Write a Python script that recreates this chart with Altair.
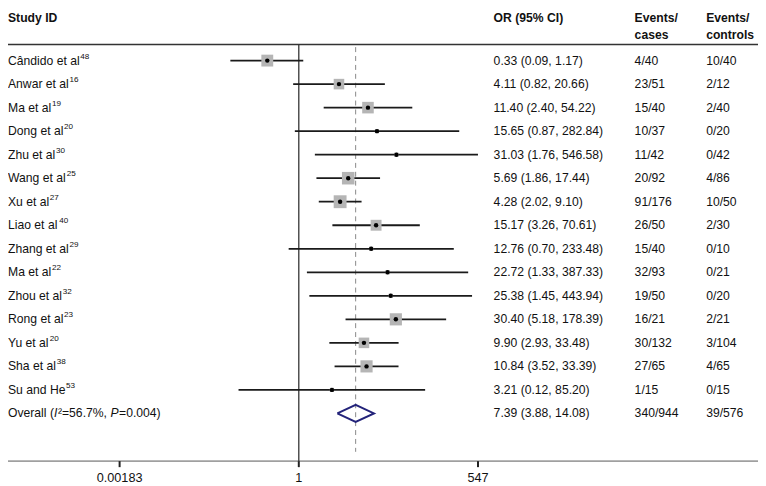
import altair as alt
import pandas as pd

# ---------------- data ----------------
study_names = ["Cândido et al", "Anwar et al", "Ma et al", "Dong et al", "Zhu et al",
               "Wang et al", "Xu et al", "Liao et al", "Zhang et al", "Ma et al",
               "Zhou et al", "Rong et al", "Yu et al", "Sha et al", "Su and He"]
study_refs = ["48", "16", "19", "20", "30", "25", "27", "40", "29", "22", "32", "23", "20", "38", "53"]
odds = [0.33, 4.11, 11.40, 15.65, 31.03, 5.69, 4.28, 15.17, 12.76, 22.72, 25.38, 30.40, 9.90, 10.84, 3.21]
lower = [0.09, 0.82, 2.40, 0.87, 1.76, 1.86, 2.02, 3.26, 0.70, 1.33, 1.45, 5.18, 2.93, 3.52, 0.12]
upper = [1.17, 20.66, 54.22, 282.84, 546.58, 17.44, 9.10, 70.61, 233.48, 387.33, 443.94, 178.39, 33.48, 33.39, 85.20]
cases = ["4/40", "23/51", "15/40", "10/37", "11/42", "20/92", "91/176", "26/50", "15/40",
         "32/93", "19/50", "16/21", "30/132", "27/65", "1/15"]
controls = ["10/40", "2/12", "2/40", "0/20", "0/42", "4/86", "10/50", "2/30", "0/10",
            "0/21", "0/20", "2/21", "3/104", "4/65", "0/15"]
# box weights (relative)
weights = [12.0, 9.5, 11.4, 1.5, 1.5, 13.4, 14.1, 10.1, 1.5, 1.5, 1.5, 12.6, 9.5, 12.6, 1.5]

overall_or = 7.39
overall_lo = 3.88
overall_hi = 14.08
overall_cases = "340/944"
overall_controls = "39/576"
overall_parts = [("Overall (", False), ("I", True), ("²=56.7%, ", False), ("P", True), ("=0.004)", False)]

tick_vals = [1 / 547, 1, 547]
tick_labels = ["0.00183", "1", "547"]

FONT = "Liberation Sans"
FS = 12.3
SUP_FS = 8.2

# Arial / Liberation Sans advance widths (1/1000 em) for text layout
AW = {" ": 278, "C": 722, "â": 556, "n": 556, "d": 556, "i": 222, "o": 556, "e": 556, "t": 278,
      "a": 556, "l": 222, "A": 667, "w": 722, "r": 333, "M": 833, "D": 722, "g": 556, "Z": 611,
      "h": 556, "u": 556, "W": 944, "X": 667, "L": 667, "R": 722, "Y": 667, "y": 500, "S": 667,
      "H": 722, "O": 778, "v": 500, "(": 333, ")": 333, "I": 278, "P": 667, "²": 333, "=": 584,
      ".": 278, "%": 889, ",": 278, "0": 556, "1": 556, "2": 556, "3": 556, "4": 556, "5": 556,
      "6": 556, "7": 556, "8": 556, "9": 556}


def tw(s, fs):
    return sum(AW.get(c, 556) for c in s) / 1000.0 * fs


rows = pd.DataFrame({
    "row": list(range(len(study_names))),
    "study": study_names,
    "ref": study_refs,
    "or": odds,
    "lo": lower,
    "hi": upper,
    "w": weights,
    "cases": cases,
    "controls": controls,
})
rows["ci"] = [f"{o:.2f} ({l:.2f}, {h:.2f})" for o, l, h in zip(odds, lower, upper)]
rows["sx"] = [tw(s, FS) + 0.6 for s in study_names]

orow = len(study_names)
overall = pd.DataFrame({
    "row": [orow],
    "ci": [f"{overall_or:.2f} ({overall_lo:.2f}, {overall_hi:.2f})"],
    "cases": [overall_cases],
    "controls": [overall_controls],
    "or": [overall_or],
})
diamond = pd.DataFrame({
    "x": [overall_lo, overall_or, overall_hi, overall_or, overall_lo],
    "row": [orow, orow - 0.36, orow, orow + 0.36, orow],
    "k": [0, 1, 2, 3, 4],
})
ticks = pd.DataFrame({"v": tick_vals, "lab": tick_labels})
one = pd.DataFrame({"v": [1]})

xs = alt.Scale(type="log", domain=[tick_vals[0], tick_vals[-1]], range=[112.8, 475.0])
ys = alt.Scale(domain=[0, orow], range=[50.6, 407.2], zero=False, nice=False)
X = lambda f: alt.X(f, scale=xs, axis=None)
Y = alt.Y("row:Q", scale=ys, axis=None)


def const_text(t, x, y, **kw):
    return alt.Chart(one).mark_text(text=t, font=FONT, fontSize=FS, align="left",
                                    baseline="middle", color="#111", **kw).encode(
        x=alt.value(x), y=alt.value(y))


W = 758
layers = []

# headers
layers += [
    const_text("Study ID", 0, 7.4, fontWeight="bold"),
    const_text("OR (95% CI)", 490.8, 7.4, fontWeight="bold"),
    const_text("Events/", 633.3, 7.4, fontWeight="bold"),
    const_text("cases", 633.3, 24.6, fontWeight="bold"),
    const_text("Events/", 705.6, 7.4, fontWeight="bold"),
    const_text("controls", 705.6, 24.6, fontWeight="bold"),
]

# horizontal rules
layers.append(alt.Chart(one).mark_rule(color="#333", strokeWidth=1.5).encode(
    x=alt.value(0), x2=alt.value(W), y=alt.value(34.4)))
layers.append(alt.Chart(one).mark_rule(color="#a0a0a0", strokeWidth=2).encode(
    x=alt.value(0), x2=alt.value(W), y=alt.value(455.4)))

# vertical line at 1
layers.append(alt.Chart(one).mark_rule(color="#333", strokeWidth=1.3).encode(
    x=X("v:Q"), y=alt.value(34.4), y2=alt.value(455.4)))
# dashed overall line
layers.append(alt.Chart(overall).mark_rule(color="#888", strokeWidth=1, strokeDash=[5, 4]).encode(
    x=X("or:Q"), y=alt.value(37), y2=alt.value(446)))

# CI lines
layers.append(alt.Chart(rows).mark_rule(color="#1a1a1a", strokeWidth=1.8).encode(
    x=X("lo:Q"), x2="hi:Q", y=Y))
# boxes
layers.append(alt.Chart(rows).mark_square(color="#b5b5b5", opacity=1).encode(
    x=X("or:Q"), y=Y,
    size=alt.Size("w:Q", scale=alt.Scale(domain=[0, 14.1], range=[0, 169]), legend=None)))
# point estimates
layers.append(alt.Chart(rows).mark_circle(color="#000", opacity=1, size=20).encode(
    x=X("or:Q"), y=Y))

# diamond
layers.append(alt.Chart(diamond).mark_line(color="#23237a", strokeWidth=2).encode(
    x=X("x:Q"), y=Y, order="k:Q"))


# text columns
def col_text(df, field, x, **kw):
    return alt.Chart(df).mark_text(font=FONT, fontSize=FS, align="left", baseline="middle",
                                   color="#111", **kw).encode(
        x=alt.value(x), y=Y, text=f"{field}:N")


layers += [
    col_text(rows, "study", 0),
    col_text(rows, "ci", 490.8),
    col_text(rows, "cases", 633.3),
    col_text(rows, "controls", 705.6),
    col_text(overall, "ci", 490.8),
    col_text(overall, "cases", 633.3),
    col_text(overall, "controls", 705.6),
]

# superscript reference numbers
layers.append(alt.Chart(rows).mark_text(font=FONT, fontSize=SUP_FS, align="left", baseline="middle",
                                        color="#111", dy=-4).encode(
    x=alt.X("sx:Q", scale=None, axis=None), y=Y, text="ref:N"))

# overall label with italic parts
xpos = 0.0
for t, it in overall_parts:
    kw = {"fontStyle": "italic"} if it else {}
    layers.append(alt.Chart(overall).mark_text(text=t, font=FONT, fontSize=FS, align="left",
                                               baseline="middle", color="#111", **kw).encode(
        x=alt.value(round(xpos, 2)), y=Y))
    xpos += tw(t, FS) + (0.6 if it else 0)

# axis ticks & labels
layers.append(alt.Chart(ticks).mark_rule(color="#222", strokeWidth=2).encode(
    x=X("v:Q"), y=alt.value(455.4), y2=alt.value(461.5)))
layers.append(alt.Chart(ticks).mark_text(font=FONT, fontSize=12.8, align="center",
                                         baseline="middle", color="#111").encode(
    x=X("v:Q"), y=alt.value(472.5), text="lab:N"))

chart = alt.layer(*layers).properties(
    width=W, height=478, padding=0, autosize="none"
).configure_view(stroke=None)

chart.save("out.html", embed_options={"renderer": "svg", "actions": False})
